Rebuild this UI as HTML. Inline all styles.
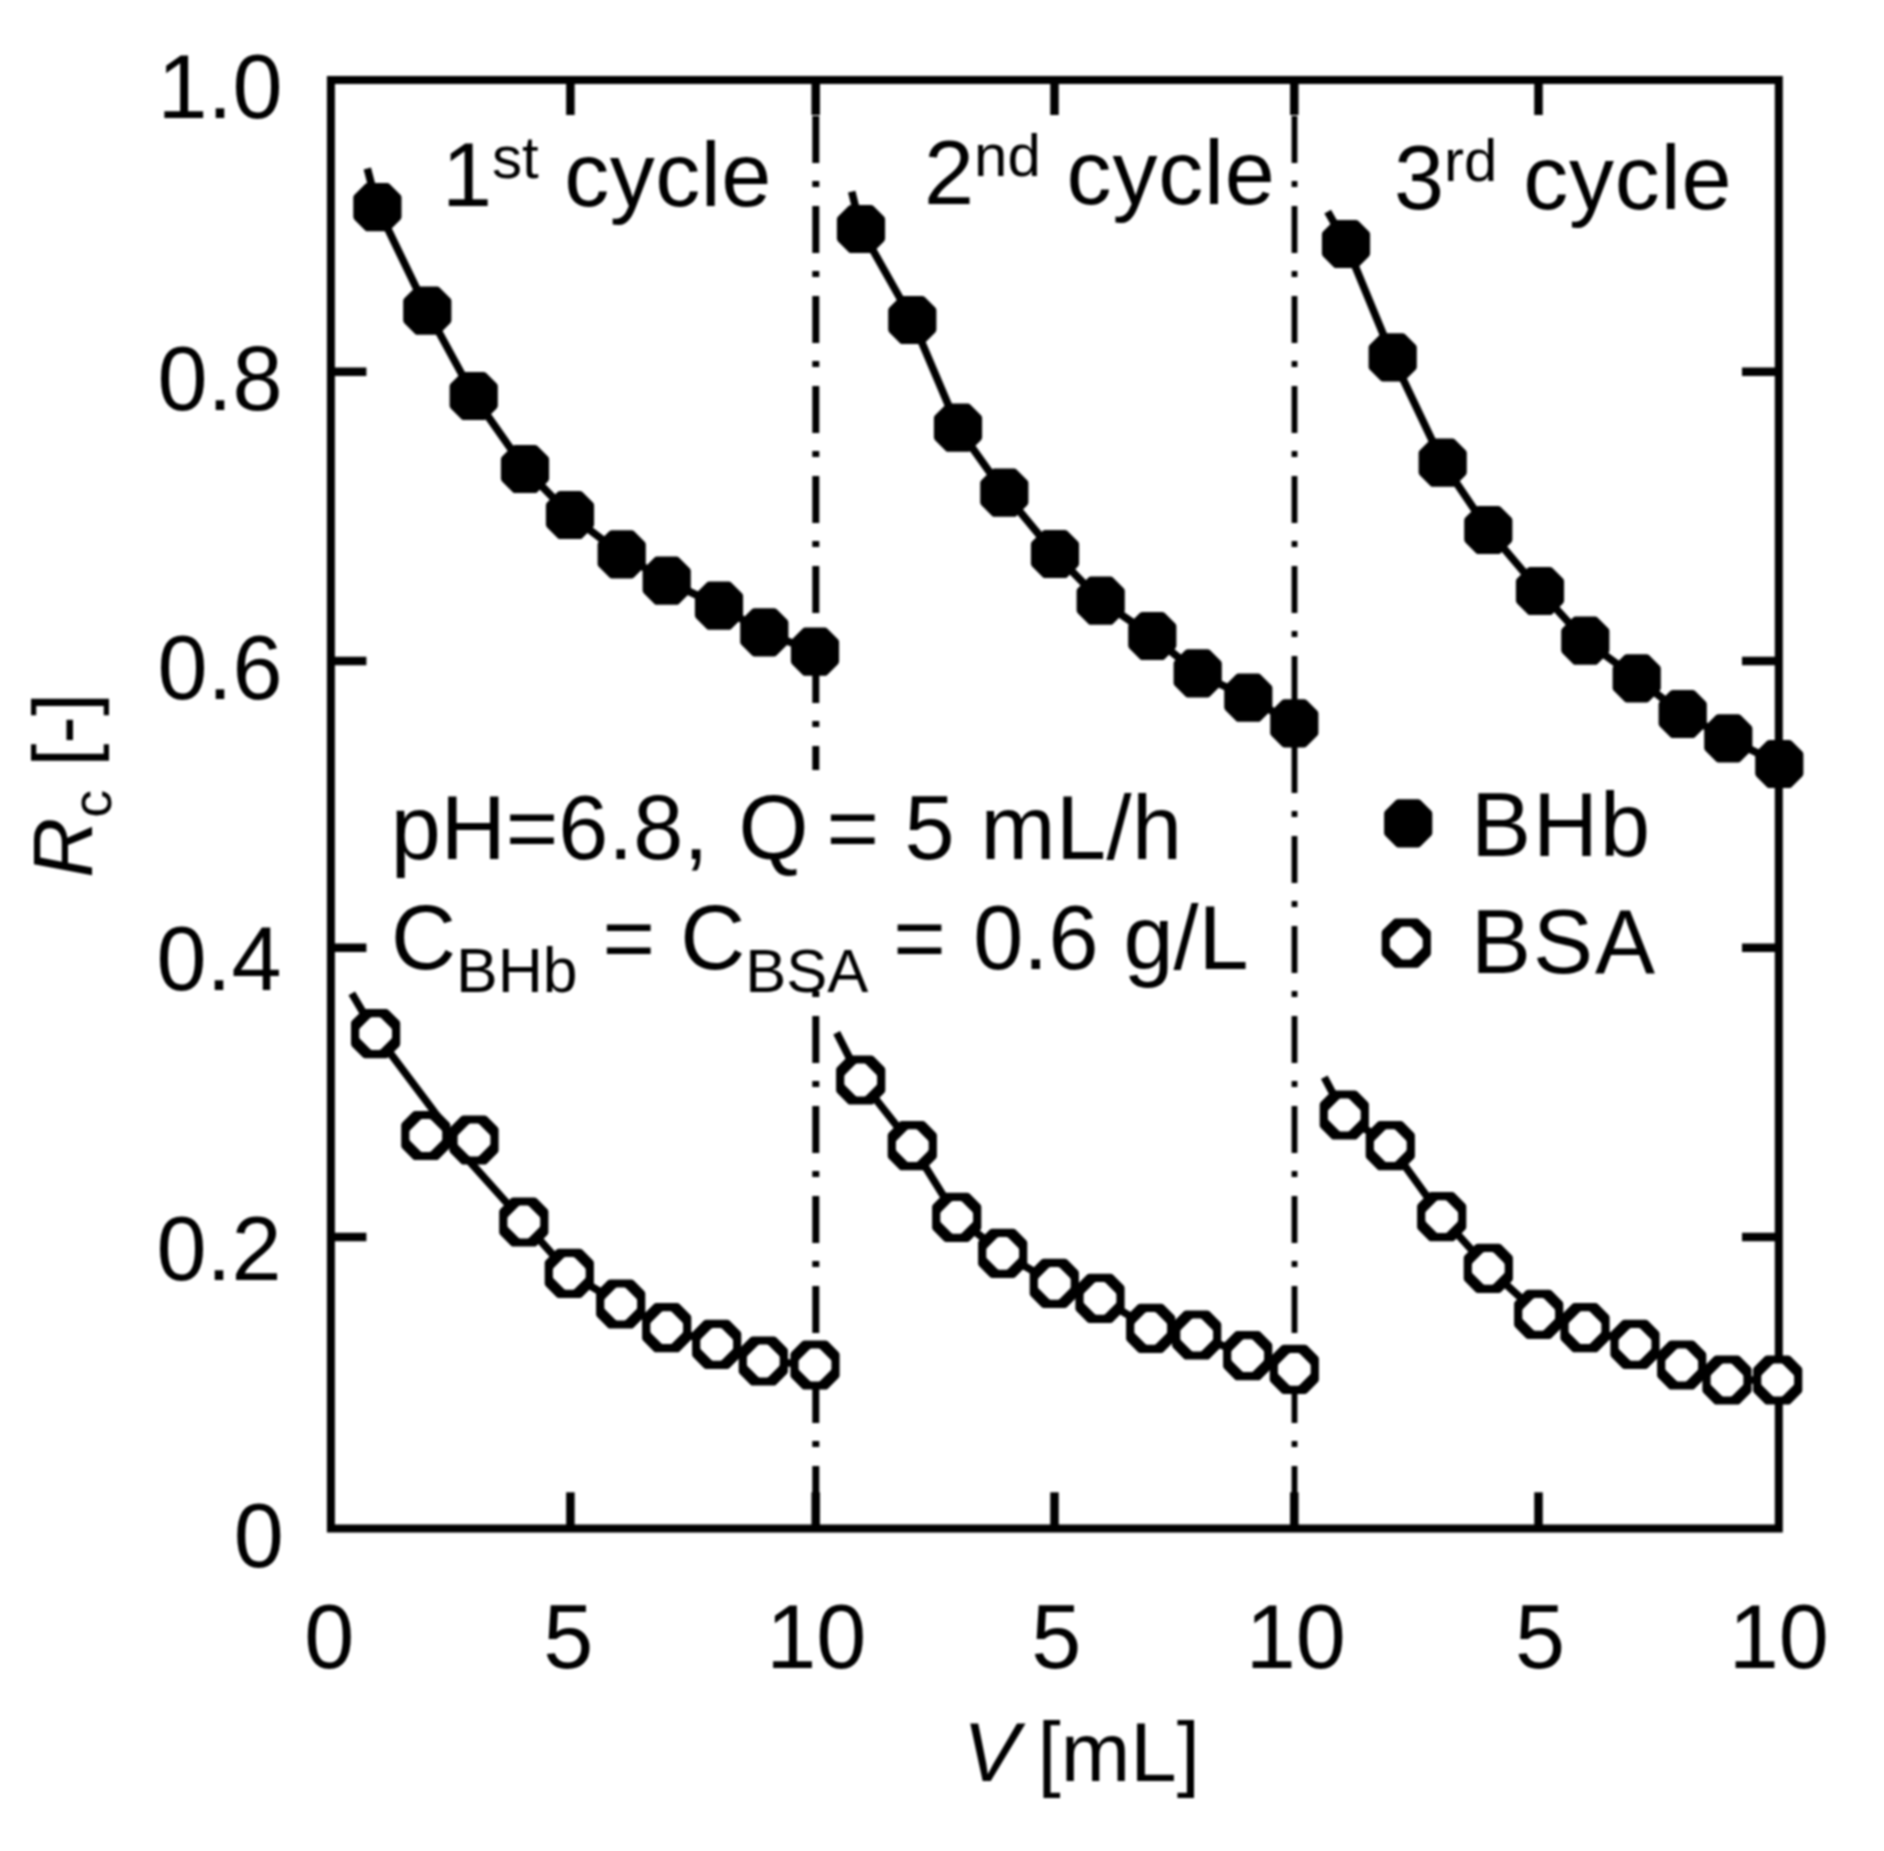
<!DOCTYPE html>
<html lang="en"><head><meta charset="utf-8"><title>Rc vs V - three cycles</title>
<style>html,body{margin:0;padding:0;background:#fff}svg{display:block;filter:blur(0.8px)}text{font-family:"Liberation Sans",Arial,Helvetica,sans-serif;fill:#000}.t{font-size:90px}.a{font-size:82px}.i{font-style:italic}</style></head><body>
<svg width="1884" height="1851" viewBox="0 0 1884 1851">
<rect width="1884" height="1851" fill="#fff"/>
<g stroke="#000" stroke-dasharray="47 18 6 19" fill="none">
<line x1="815.8" y1="116" x2="815.8" y2="1528.5" stroke-width="7.0"/>
<line x1="1294.5" y1="116" x2="1294.5" y2="1528.5" stroke-width="5.8"/>
</g>
<rect x="386" y="770" width="880" height="220" fill="#fff"/>
<g stroke="#000" stroke-width="8.5" fill="none">
<line x1="570.4" y1="80.0" x2="570.4" y2="115.0"/>
<line x1="570.4" y1="1528.5" x2="570.4" y2="1492.3"/>
<line x1="815.7" y1="80.0" x2="815.7" y2="115.0"/>
<line x1="815.7" y1="1528.5" x2="815.7" y2="1492.3"/>
<line x1="1054.5" y1="80.0" x2="1054.5" y2="115.0"/>
<line x1="1054.5" y1="1528.5" x2="1054.5" y2="1492.3"/>
<line x1="1294.3" y1="80.0" x2="1294.3" y2="115.0"/>
<line x1="1294.3" y1="1528.5" x2="1294.3" y2="1492.3"/>
<line x1="1538.5" y1="80.0" x2="1538.5" y2="115.0"/>
<line x1="1538.5" y1="1528.5" x2="1538.5" y2="1492.3"/>
<line x1="330.9" y1="371.8" x2="366.4" y2="371.8"/>
<line x1="1778.8" y1="371.8" x2="1742.0" y2="371.8"/>
<line x1="330.9" y1="661.0" x2="366.4" y2="661.0"/>
<line x1="1778.8" y1="661.0" x2="1742.0" y2="661.0"/>
<line x1="330.9" y1="947.8" x2="366.4" y2="947.8"/>
<line x1="1778.8" y1="947.8" x2="1742.0" y2="947.8"/>
<line x1="330.9" y1="1237.0" x2="366.4" y2="1237.0"/>
<line x1="1778.8" y1="1237.0" x2="1742.0" y2="1237.0"/>
</g>
<rect x="330.9" y="80.0" width="1447.9" height="1448.5" fill="none" stroke="#000" stroke-width="8.0"/>
<g stroke="#000" stroke-width="7.6" fill="none" stroke-linejoin="round">
<polyline points="367.3,168.5 377.4,207.2 427.3,310.7 473.7,396.0 525.0,469.0 570.0,515.0 621.7,554.3 666.7,580.7 719.0,605.7 764.3,632.3 815.0,651.7"/>
<polyline points="851.7,191.7 861.0,229.0 912.3,320.0 958.0,427.7 1004.3,492.7 1055.0,554.0 1100.7,600.7 1152.3,636.0 1197.7,673.3 1248.3,697.7 1294.3,723.3"/>
<polyline points="1327.7,211.7 1346.0,244.0 1392.7,357.3 1442.7,462.7 1488.3,530.0 1540.0,591.0 1585.3,640.7 1636.7,678.3 1682.7,714.0 1728.3,738.3 1779.3,764.0"/>
<polyline points="351.8,993.4 375.6,1033.6 432.2,1109.0 470.7,1162.6 523.8,1222.0 569.3,1273.3 620.7,1304.0 666.7,1327.7 716.7,1344.3 763.3,1361.0 815.0,1365.0"/>
<polyline points="836.7,1032.7 860.7,1080.0 912.3,1145.7 956.7,1217.3 1002.7,1253.3 1054.3,1283.3 1100.0,1298.3 1150.7,1328.3 1196.7,1335.0 1247.7,1355.7 1294.3,1369.3"/>
<polyline points="1324.3,1077.3 1344.3,1115.0 1390.3,1145.7 1441.7,1216.7 1488.3,1268.3 1538.7,1314.3 1585.0,1327.7 1635.0,1344.3 1681.7,1365.0 1727.0,1380.0 1777.7,1380.0"/>
</g>
<defs><path id="mf" d="M-9.6,-20.1L9.6,-20.1L20.1,-9.6L20.1,9.6L9.6,20.1L-9.6,20.1L-20.1,9.6L-20.1,-9.6Z" fill="#000" stroke="#000" stroke-width="8" stroke-linejoin="round"/>
<g id="mo"><path d="M-10.2,-20.6L10.2,-20.6L20.6,-10.2L20.6,10.2L10.2,20.6L-10.2,20.6L-20.6,10.2L-20.6,-10.2Z" fill="#000" stroke="#000" stroke-width="8" stroke-linejoin="round"/><path d="M-3.4,-13.4L3.4,-13.4L13.4,-3.4L13.4,3.4L3.4,13.4L-3.4,13.4L-13.4,3.4L-13.4,-3.4Z" fill="#fff" stroke="#fff" stroke-width="6" stroke-linejoin="round"/></g></defs>
<use href="#mf" x="377.4" y="207.2"/>
<use href="#mf" x="427.3" y="310.7"/>
<use href="#mf" x="473.7" y="396.0"/>
<use href="#mf" x="525.0" y="469.0"/>
<use href="#mf" x="570.0" y="515.0"/>
<use href="#mf" x="621.7" y="554.3"/>
<use href="#mf" x="666.7" y="580.7"/>
<use href="#mf" x="719.0" y="605.7"/>
<use href="#mf" x="764.3" y="632.3"/>
<use href="#mf" x="815.0" y="651.7"/>
<use href="#mf" x="861.0" y="229.0"/>
<use href="#mf" x="912.3" y="320.0"/>
<use href="#mf" x="958.0" y="427.7"/>
<use href="#mf" x="1004.3" y="492.7"/>
<use href="#mf" x="1055.0" y="554.0"/>
<use href="#mf" x="1100.7" y="600.7"/>
<use href="#mf" x="1152.3" y="636.0"/>
<use href="#mf" x="1197.7" y="673.3"/>
<use href="#mf" x="1248.3" y="697.7"/>
<use href="#mf" x="1294.3" y="723.3"/>
<use href="#mf" x="1346.0" y="244.0"/>
<use href="#mf" x="1392.7" y="357.3"/>
<use href="#mf" x="1442.7" y="462.7"/>
<use href="#mf" x="1488.3" y="530.0"/>
<use href="#mf" x="1540.0" y="591.0"/>
<use href="#mf" x="1585.3" y="640.7"/>
<use href="#mf" x="1636.7" y="678.3"/>
<use href="#mf" x="1682.7" y="714.0"/>
<use href="#mf" x="1728.3" y="738.3"/>
<use href="#mf" x="1779.3" y="764.0"/>
<use href="#mf" x="1408.2" y="823.3"/>
<use href="#mo" x="375.6" y="1033.6"/>
<use href="#mo" x="425.8" y="1135.5"/>
<use href="#mo" x="474.0" y="1140.0"/>
<use href="#mo" x="523.8" y="1222.0"/>
<use href="#mo" x="569.3" y="1273.3"/>
<use href="#mo" x="620.7" y="1304.0"/>
<use href="#mo" x="666.7" y="1327.7"/>
<use href="#mo" x="716.7" y="1344.3"/>
<use href="#mo" x="763.3" y="1361.0"/>
<use href="#mo" x="815.0" y="1365.0"/>
<use href="#mo" x="860.7" y="1080.0"/>
<use href="#mo" x="912.3" y="1145.7"/>
<use href="#mo" x="956.7" y="1217.3"/>
<use href="#mo" x="1002.7" y="1253.3"/>
<use href="#mo" x="1054.3" y="1283.3"/>
<use href="#mo" x="1100.0" y="1298.3"/>
<use href="#mo" x="1150.7" y="1328.3"/>
<use href="#mo" x="1196.7" y="1335.0"/>
<use href="#mo" x="1247.7" y="1355.7"/>
<use href="#mo" x="1294.3" y="1369.3"/>
<use href="#mo" x="1344.3" y="1115.0"/>
<use href="#mo" x="1390.3" y="1145.7"/>
<use href="#mo" x="1441.7" y="1216.7"/>
<use href="#mo" x="1488.3" y="1268.3"/>
<use href="#mo" x="1538.7" y="1314.3"/>
<use href="#mo" x="1585.0" y="1327.7"/>
<use href="#mo" x="1635.0" y="1344.3"/>
<use href="#mo" x="1681.7" y="1365.0"/>
<use href="#mo" x="1727.0" y="1380.0"/>
<use href="#mo" x="1777.7" y="1380.0"/>
<use href="#mo" x="1406.3" y="943.1"/>
<g class="t" text-anchor="end">
<text x="282.7" y="117.8">1.0</text>
<text x="282.7" y="409.5">0.8</text>
<text x="282.7" y="699.0">0.6</text>
<text x="281.7" y="990.0">0.4</text>
<text x="281.7" y="1280.0">0.2</text>
<text x="283.7" y="1566.5">0</text>
</g>
<g class="t" text-anchor="middle">
<text x="329.3" y="1668">0</text>
<text x="568.3" y="1668">5</text>
<text x="816.2" y="1668">10</text>
<text x="1056.2" y="1668">5</text>
<text x="1295.7" y="1668">10</text>
<text x="1540.0" y="1668">5</text>
<text x="1778.7" y="1668">10</text>
</g>
<text class="a" style="font-size:84px" y="1780.7"><tspan class="i" x="963">V</tspan><tspan x="1014.3" style="font-size:83.5px"> [mL]</tspan></text>
<text class="a" style="font-size:83px" transform="translate(91.7 877.7) rotate(-90)"><tspan class="i">R</tspan><tspan font-size="56" dy="19">c</tspan><tspan dy="-19"> [-]</tspan></text>
<text class="t" x="442.0" y="206.0">1<tspan font-size="60" dy="-28">st</tspan><tspan dy="28" letter-spacing="0.5"> cycle</tspan></text>
<text class="t" x="924.0" y="204.0">2<tspan font-size="60" dy="-28">nd</tspan><tspan dy="28" letter-spacing="0.8"> cycle</tspan></text>
<text class="t" x="1394.0" y="209.0">3<tspan font-size="60" dy="-28">rd</tspan><tspan dy="28" letter-spacing="0.8"> cycle</tspan></text>
<text class="t" x="390.7" y="859.3">pH=6.8,<tspan dx="5"> Q</tspan><tspan dx="-7"> =</tspan><tspan letter-spacing="0.5"> 5 mL/h</tspan></text>
<text class="t" x="391" y="969">C<tspan font-size="62.5" dy="23">BHb</tspan><tspan dy="-23"> = C</tspan><tspan font-size="61.5" dy="23">BSA</tspan><tspan dy="-23"> =</tspan><tspan dx="2.5"> 0.6 g/L</tspan></text>
<text class="t" x="1471" y="855.8" letter-spacing="2">BHb</text>
<text class="t" x="1471" y="973.3" letter-spacing="2">BSA</text>
</svg></body></html>
